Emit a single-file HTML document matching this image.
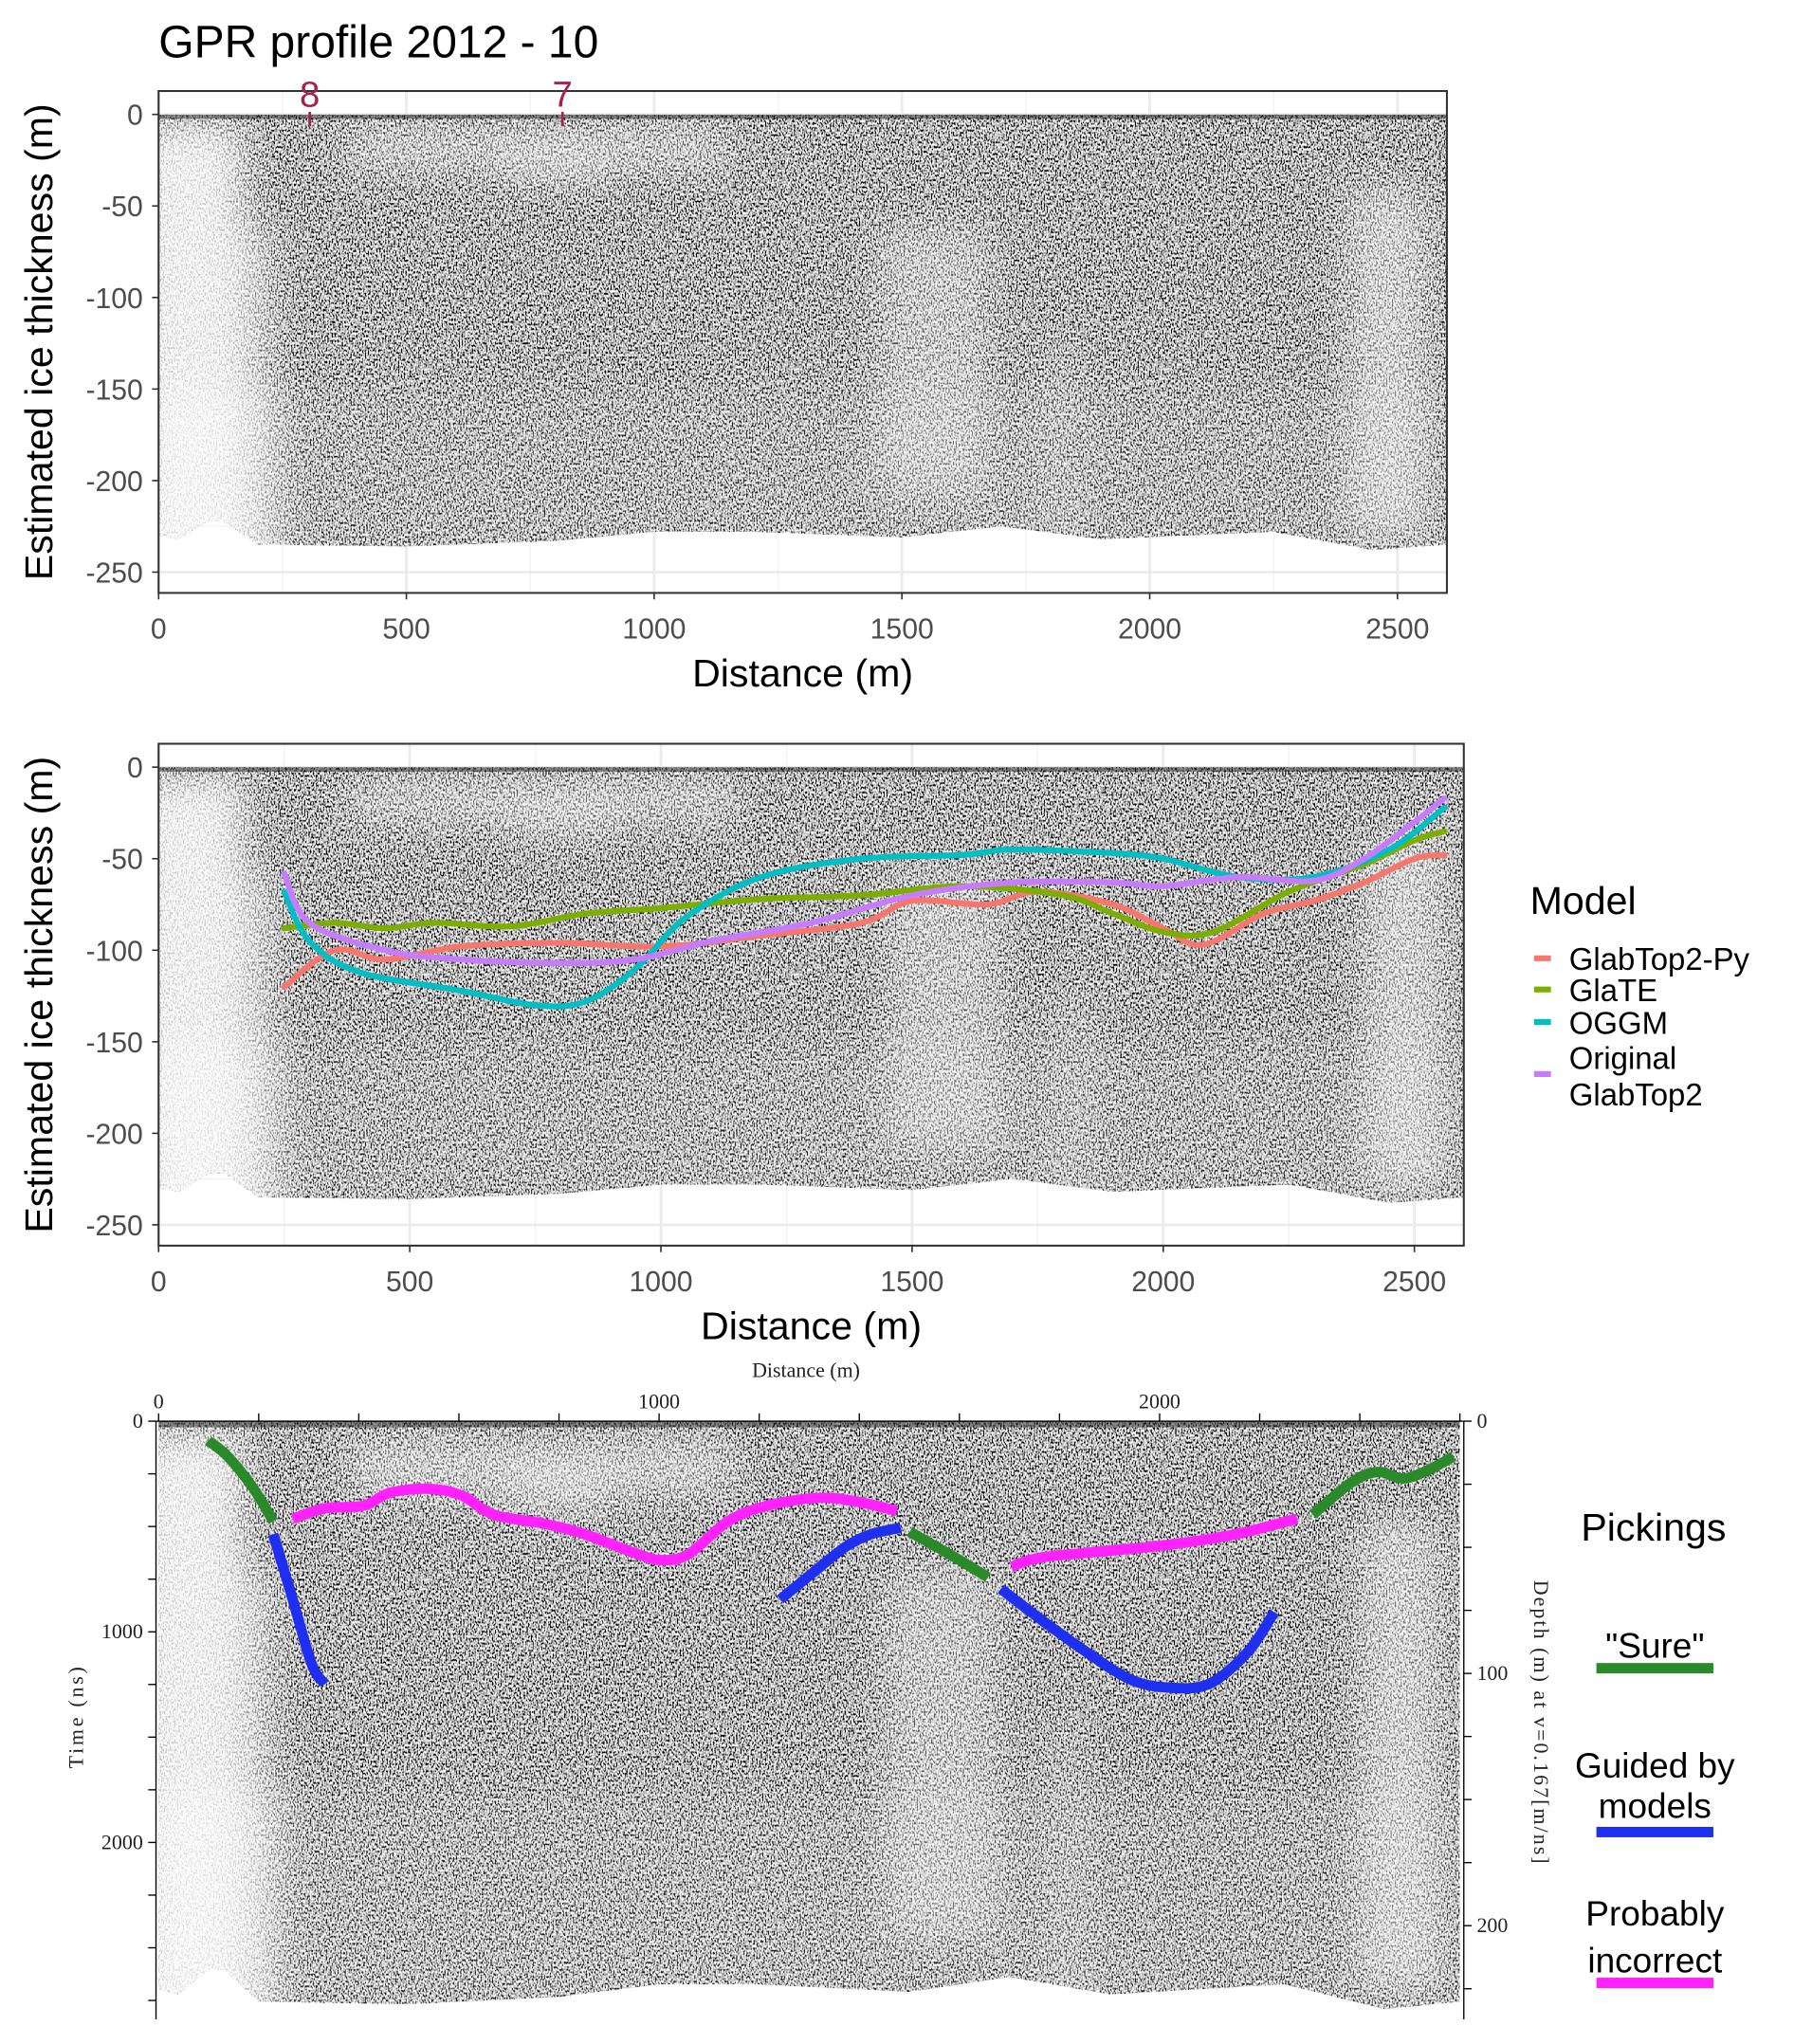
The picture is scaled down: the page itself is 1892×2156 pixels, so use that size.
<!DOCTYPE html>
<html><head><meta charset="utf-8"><style>
html,body{margin:0;padding:0;background:#fff}
svg{display:block}
text{font-family:"Liberation Sans",sans-serif}
.tk{fill:#4d4d4d;font-size:22px}
.sr{font-family:"Liberation Serif",serif;fill:#222;font-size:16px}
</style></head><body>
<svg id="fig" xmlns="http://www.w3.org/2000/svg" width="1892" height="2156" viewBox="0 0 1380 1572" preserveAspectRatio="none">
<defs>
<filter id="nz" x="0" y="0" width="100%" height="100%">
<feTurbulence type="fractalNoise" baseFrequency="0.9 0.55" numOctaves="1" seed="3"/>
<feColorMatrix type="matrix" values="3.6 0 0 0 -1.3  3.6 0 0 0 -1.3  3.6 0 0 0 -1.3  0 0 0 0 1"/>
</filter>
<filter id="bl"><feGaussianBlur stdDeviation="14"/></filter>
</defs>
<g id="root"></g>
</svg>
<script>
// ---- data ----
const xTicks=[0,500,1000,1500,2000,2500];
const yTicks=[0,-50,-100,-150,-200,-250];
const bedX=[0,40,100,130,200,500,800,1000,1200,1500,1700,1900,2250,2450,2600];
const bedD=[-230,-232,-222,-222,-235,-236,-233,-228,-228,-231,-225,-232,-228,-238,-235];
const modelNames=["GlabTop2-Py","GlaTE","OGGM","Original GlabTop2"];
const modelColors=["#F8766D","#7CAE00","#00BFC4","#C77CFF"];
const pyX=[250,350,450,600,800,1000,1200,1400,1500,1650,1750,1900,2000,2080,2200,2300,2400,2500,2560];
const pyD=[-120,-100,-105,-98,-96,-98,-92,-85,-73,-75,-68,-75,-88,-97,-80,-73,-63,-50,-48];
const gtX=[250,350,450,550,700,850,1000,1200,1400,1600,1800,1900,2000,2100,2250,2400,2500,2560];
const gtD=[-88,-85,-88,-85,-87,-80,-77,-72,-70,-65,-70,-80,-90,-90,-68,-53,-40,-35];
const ogX=[250,300,400,600,750,850,950,1050,1200,1400,1600,1700,1900,2000,2150,2300,2450,2560];
const ogD=[-68,-95,-112,-122,-130,-128,-110,-82,-60,-50,-48,-45,-47,-50,-60,-60,-45,-22];
const orX=[250,300,450,600,800,950,1100,1300,1500,1700,1900,2000,2150,2300,2400,2500,2560];
const orD=[-58,-85,-100,-105,-107,-105,-95,-85,-70,-63,-63,-65,-60,-62,-50,-30,-17];
const topTicks=[0,1000,2000];
const timeTicks=[0,1000,2000];
const depthTicks=[0,100,200];
const pickGroups=[
 {c:"#2a8a2a",x:[99,138,190,229],t:[93,167,321,475]},
 {c:"#1f2ff0",x:[229,268,306,332],t:[537,846,1154,1247]},
 {c:"#ff22ff",x:[268,332,410,462,540,605,670,774,852,956,1008,1060,1138,1216,1319,1397,1475],t:[463,414,401,340,321,352,444,488,537,630,660,630,475,401,364,383,426]},
 {c:"#1f2ff0",x:[1242,1306,1371,1423,1483],t:[846,722,599,537,506]},
 {c:"#2a8a2a",x:[1501,1579,1657],t:[525,630,741]},
 {c:"#1f2ff0",x:[1683,1761,1852,1943,2021,2099,2177,2229],t:[796,938,1093,1228,1265,1247,1093,907]},
 {c:"#ff22ff",x:[1704,1761,1891,2021,2151,2275],t:[691,648,617,586,537,463]},
 {c:"#2a8a2a",x:[2306,2384,2436,2488,2540,2587],t:[444,290,241,272,228,167]}
];
// ---- helpers ----
const NS="http://www.w3.org/2000/svg";
const root=document.getElementById('root');
function el(tag,attrs,parent,txt){const e=document.createElementNS(NS,tag);for(const k in attrs)e.setAttribute(k,attrs[k]);if(txt!==undefined)e.textContent=txt;(parent||root).appendChild(e);return e;}
function smooth(pts){let d="M"+pts[0][0]+","+pts[0][1];for(let i=1;i<pts.length;i++){const p0=pts[Math.max(i-2,0)],p1=pts[i-1],p2=pts[i],p3=pts[Math.min(i+1,pts.length-1)];const c1=[p1[0]+(p2[0]-p0[0])/6,p1[1]+(p2[1]-p0[1])/6],c2=[p2[0]-(p3[0]-p1[0])/6,p2[1]-(p3[1]-p1[1])/6];d+=" C"+c1[0]+","+c1[1]+" "+c2[0]+","+c2[1]+" "+p2[0]+","+p2[1];}return d;}
function radar(g,xs,yd,name){
 const clipId="clip"+name;
 const cp=el('clipPath',{id:clipId},g);
 let d="M"+xs(0)+","+yd(0)+" L"+xs(2600)+","+yd(0);
 for(let i=bedX.length-1;i>=0;i--)d+=" L"+xs(bedX[i])+","+yd(bedD[i]);
 d+="Z";el('path',{d:d},cp);
 const rg=el('g',{'clip-path':'url(#'+clipId+')'},g);
 
 
 const x0=xs(0),x1=xs(2600),y0=yd(0),y1=yd(-245);
 el('rect',{x:x0,y:y0,width:x1-x0,height:y1-y0,fill:'#777',filter:'url(#nz)'},rg);
 const bg=el('g',{filter:'url(#bl)'},rg);
 const W=(a,b,c,e,o)=>el('rect',{x:xs(a),y:yd(c),width:xs(b)-xs(a),height:yd(e)-yd(c),fill:'#fff',opacity:o},bg);
 W(-50,170,-5,-260,0.8);W(170,230,-60,-260,0.5);W(-50,250,-150,-260,0.3);
 W(380,1150,-8,-30,0.45);W(700,900,-20,-40,0.3);
 W(1450,1680,-60,-210,0.35);W(1780,1850,-120,-240,0.2);
 W(2400,2560,-40,-230,0.45);
 W(0,2600,-150,-240,0.12);
 el('rect',{x:x0,y:y0,width:x1-x0,height:yd(-2.5)-y0,fill:'#222',opacity:0.5},rg);
}
function ggPanel(name,L,T,R,B,xs,ys){
 const g=el('g',{});
 
 
 el('rect',{x:L,y:T,width:R-L,height:B-T,fill:'#fff'},g);
 for(let m=250;m<2600;m+=500)el('line',{x1:xs(m),x2:xs(m),y1:T,y2:B,stroke:'#f2f2f2','stroke-width':1},g);
 for(const v of [-25,-75,-125,-175,-225])el('line',{x1:L,x2:R,y1:ys(v),y2:ys(v),stroke:'#f2f2f2','stroke-width':1},g);
 for(const m of xTicks)el('line',{x1:xs(m),x2:xs(m),y1:T,y2:B,stroke:'#ebebeb','stroke-width':2},g);
 for(const v of yTicks)el('line',{x1:L,x2:R,y1:ys(v),y2:ys(v),stroke:'#ebebeb','stroke-width':2},g);
 radar(g,xs,ys,name);
 el('rect',{x:L,y:T,width:R-L,height:B-T,fill:'none',stroke:'#333','stroke-width':1.5},g);
 for(const m of xTicks){
  el('line',{x1:xs(m),x2:xs(m),y1:B,y2:B+5,stroke:'#333','stroke-width':1.2},g);
  const t=el('text',{x:xs(m),y:B+35,'text-anchor':'middle',class:'tk'},g,String(m));
  
 }
 for(const v of yTicks){
  el('line',{x1:L-5,x2:L,y1:ys(v),y2:ys(v),stroke:'#333','stroke-width':1.2},g);
  const t=el('text',{x:L-12,y:ys(v)+8,'text-anchor':'end',class:'tk'},g,String(v));
  
 }
 const xt=el('text',{x:(L+R)/2,y:B+72,'text-anchor':'middle','font-size':30,fill:'#000'},g,'Distance (m)');
 
 const cy=(T+B)/2;
 const yt=el('text',{x:0,y:0,transform:'translate(40,'+cy+') rotate(-90)','text-anchor':'middle','font-size':30,fill:'#000'},g,'Estimated ice thickness (m)');
 
 return g;
}
const ti=el('text',{x:122,y:44,'font-size':35,fill:'#000'},root,'GPR profile 2012 - 10');

// Panel 1
const xs1=m=>122+m*0.3812, ys1=d=>88-d*1.408;
const p1=ggPanel('profile-panel',122,70,1113,456,xs1,ys1);
const markX=[305,815],markL=["8","7"];
markX.forEach((m,i)=>{
 const mg=el('g',{},p1);
 
 el('line',{x1:xs1(m),x2:xs1(m),y1:86,y2:97,stroke:'#a3234f','stroke-width':2},mg);
 el('text',{x:xs1(m),y:82,'text-anchor':'middle','font-size':28,fill:'#a3234f'},mg,markL[i]);
});
// Panel 2
const xs2=m=>122+m*0.3864, ys2=d=>590-d*1.408;
const p2=ggPanel('model-panel',122,572,1126,958,xs2,ys2);
const series=[[pyX,pyD],[gtX,gtD],[ogX,ogD],[orX,orD]];
series.forEach((s,i)=>{
 const pts=s[0].map((x,j)=>[xs2(x),ys2(s[1][j])]);
 const p=el('path',{d:smooth(pts),fill:'none',stroke:modelColors[i],'stroke-width':4.5,'stroke-linecap':'round'},p2);
 
 
});
const lg=el('g',{});

el('text',{x:1177,y:703,'font-size':30,fill:'#000'},lg,'Model');
const legY=[737,761,786,826];
modelNames.forEach((n,i)=>{
 const eg=el('g',{},lg);
 
 el('line',{x1:1180,x2:1193,y1:legY[i],y2:legY[i],stroke:modelColors[i],'stroke-width':4.5},eg);
 if(i<3)el('text',{x:1207,y:legY[i]+9,'font-size':24,fill:'#000'},eg,n);
 else{el('text',{x:1207,y:822,'font-size':24,fill:'#000'},eg,'Original');el('text',{x:1207,y:850,'font-size':24,fill:'#000'},eg,'GlabTop2');}
});
// Panel 3
const xs3=m=>122+m*0.385, yt3=t=>1093+t*0.162;
const ys3=d=>1093-d*1.9;
const p3=el('g',{});

radar(p3,xs3,ys3,'pickings-panel');
el('line',{x1:120,x2:1126,y1:1093,y2:1093,stroke:'#000','stroke-width':1},p3);
el('line',{x1:120,x2:120,y1:1093,y2:1553,stroke:'#000','stroke-width':1},p3);
el('line',{x1:1126,x2:1126,y1:1093,y2:1553,stroke:'#000','stroke-width':1},p3);
for(let m=0;m<=2600;m+=200)el('line',{x1:xs3(m),x2:xs3(m),y1:1087,y2:1093,stroke:'#000','stroke-width':1},p3);
topTicks.forEach(m=>{const t=el('text',{x:xs3(m),y:1083,'text-anchor':'middle',class:'sr'},p3,String(m));});
for(let t=0;t<=2800;t+=250)el('line',{x1:114,x2:120,y1:yt3(t),y2:yt3(t),stroke:'#000','stroke-width':1},p3);
timeTicks.forEach(v=>{const t=el('text',{x:110,y:yt3(v)+5,'text-anchor':'end',class:'sr'},p3,String(v));});
for(let d=0;d<=230;d+=25)el('line',{x1:1126,x2:1132,y1:1093+d*1.94,y2:1093+d*1.94,stroke:'#000','stroke-width':1},p3);
depthTicks.forEach(v=>{const t=el('text',{x:1136,y:1093+v*1.94+5,class:'sr'},p3,String(v));});
const dt=el('text',{x:620,y:1059,'text-anchor':'middle',class:'sr'},p3,'Distance (m)');

const tt=el('text',{x:0,y:0,transform:'translate(64,1320) rotate(-90)','text-anchor':'middle',class:'sr','letter-spacing':'2'},p3,'Time (ns)');

const rt=el('text',{x:0,y:0,transform:'translate(1180,1325) rotate(90)','text-anchor':'middle',class:'sr','letter-spacing':'1.5'},p3,'Depth (m) at v=0.167[m/ns]');

pickGroups.forEach((pg,i)=>{
 const pts=pg.x.map((x,j)=>[xs3(x),yt3(pg.t[j])]);
 const p=el('path',{d:smooth(pts),fill:'none',stroke:pg.c,'stroke-width':8,'stroke-linecap':'butt'},p3);
 
 
});
const pl=el('g',{});

el('text',{x:1272,y:1185,'text-anchor':'middle','font-size':30,fill:'#000'},pl,'Pickings');
const legs=[[["\"Sure\""],[1275],1283,'#2a8a2a'],[["Guided by","models"],[1367,1398],1409,'#1f2ff0'],[["Probably","incorrect"],[1481,1517],1525,'#ff22ff']];
legs.forEach(l=>{
 const eg=el('g',{},pl);
 
 l[0].forEach((s,j)=>el('text',{x:1273,y:l[1][j],'text-anchor':'middle','font-size':27,fill:'#000'},eg,s));
 el('rect',{x:1228,y:l[2]-4,width:90,height:8,fill:l[3]},eg);
});
</script>
</body></html>
